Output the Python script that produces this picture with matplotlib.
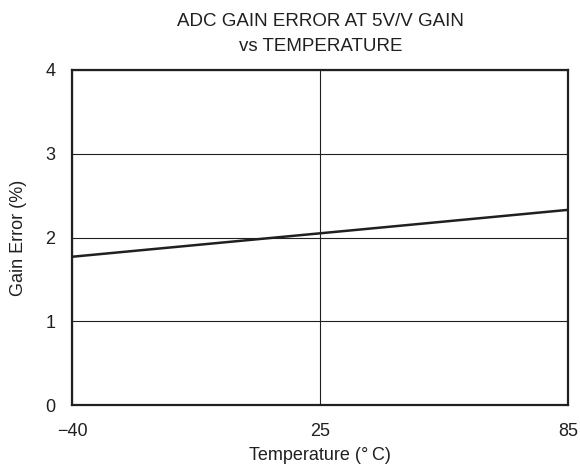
import matplotlib
matplotlib.use("Agg")
import matplotlib.pyplot as plt
import numpy as np

temperature = [-40, 25, 85]
gain_error = [1.77, 2.05, 2.33]
x_ticks = [-40, 25, 85]
x_tick_labels = ['\u221240', '25', '85']
y_ticks = [0, 1, 2, 3, 4]

plt.rcParams['font.family'] = ['Liberation Sans', 'DejaVu Sans']

# the original chart spaces its temperature ticks evenly
_tk = np.array(x_ticks, dtype=float)
_pos = np.linspace(0, 1, len(_tk))
def fwd(x):
    return np.interp(x, _tk, _pos)
def inv(p):
    return np.interp(p, _pos, _tk)

fig = plt.figure(figsize=(5.8, 4.68), dpi=100)
ax = fig.add_axes([72/580, (468-405)/468, (568-72)/580, (405-70)/468])
ax.set_xscale('function', functions=(fwd, inv))
ax.plot(temperature, gain_error, color='#231f20', lw=1.8)
ax.set_xlim(-40, 85)
ax.set_ylim(0, 4)
ax.set_xticks(x_ticks)
ax.set_xticklabels(x_tick_labels)
ax.xaxis.set_minor_locator(matplotlib.ticker.NullLocator())
ax.set_yticks(y_ticks)
ax.grid(True, color='#231f20', lw=0.8)
ax.tick_params(length=0, labelsize=13, colors='#231f20')
ax.tick_params(axis='x', pad=13)
ax.tick_params(axis='y', pad=12)
for s in ax.spines.values():
    s.set_linewidth(1.6)
    s.set_color('#231f20')
ax.set_xlabel('Temperature (\u00b0\u2009C)', fontsize=13, color='#231f20', va='center')
ax.xaxis.set_label_coords(0.5, (405-456)/335)
ax.set_ylabel('Gain Error (%)', fontsize=13, color='#231f20', va='center')
ax.yaxis.set_label_coords((19-72)/496, 0.5)
fig.text(320.5/580, 1-34/468, 'ADC GAIN ERROR AT 5V/V GAIN\nvs TEMPERATURE', ha='center', va='center',
         fontsize=13.5, color='#231f20', linespacing=1.57)
fig.savefig('out.png', dpi=100)
